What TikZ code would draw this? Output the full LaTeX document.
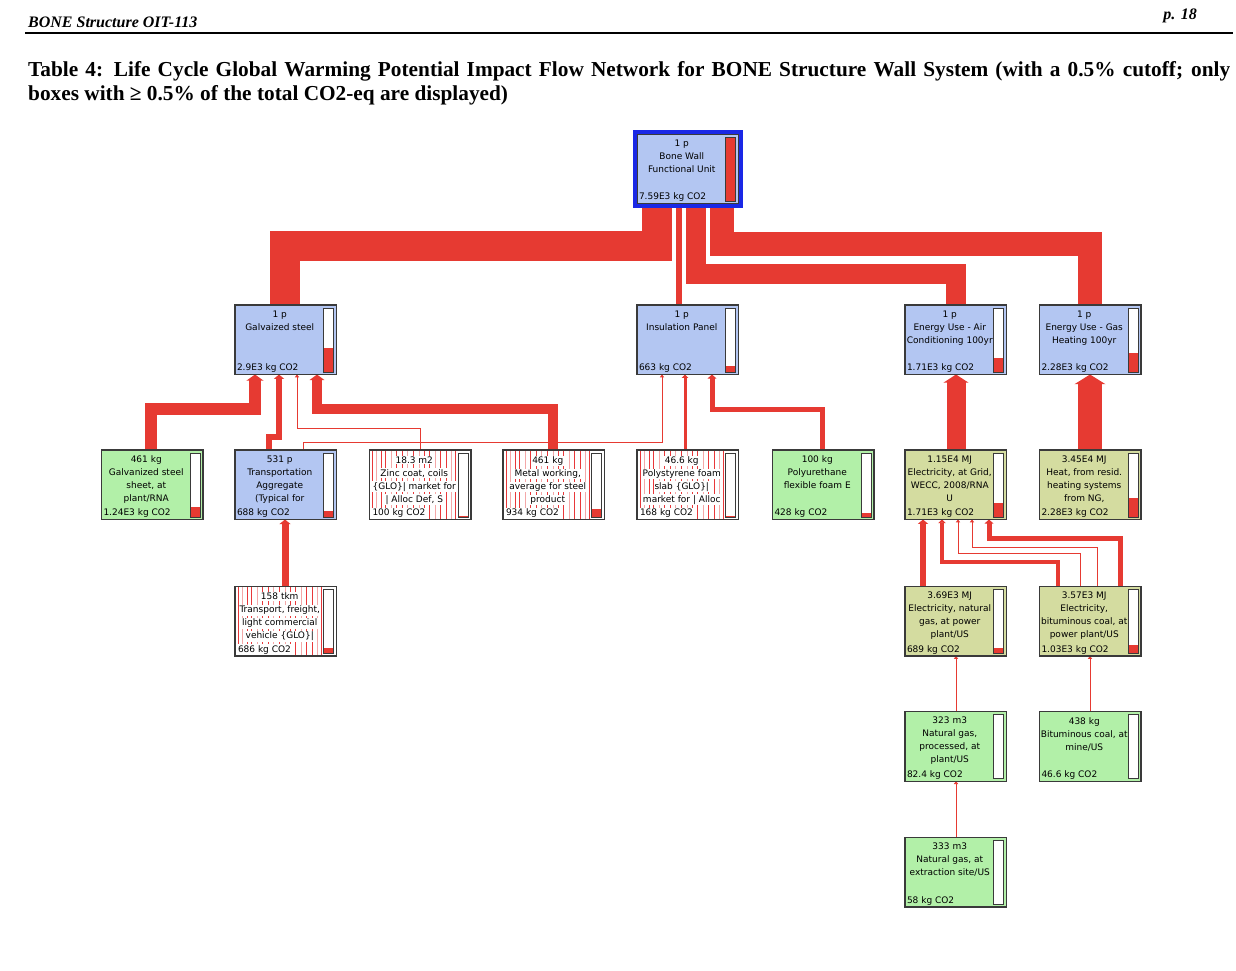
\documentclass[tikz,border=0pt]{standalone}
\usepackage{fontspec}
\setmainfont{Liberation Serif}
\newfontfamily\boxfont{DejaVu Sans}
\usetikzlibrary{arrows.meta}
\pgfdeclarelayer{paper}
\pgfdeclarelayer{bg}
\pgfsetlayers{paper,bg,main}
\definecolor{flowred}{HTML}{E63A32}
\definecolor{procblue}{HTML}{B3C6F2}
\definecolor{procgreen}{HTML}{B2F0A8}
\definecolor{procolive}{HTML}{D4DCA0}
\definecolor{stripered}{HTML}{E8383A}
\definecolor{stripepink}{HTML}{F4A8A8}
\definecolor{topblue}{HTML}{1A28E6}
\definecolor{boxgray}{HTML}{3A3A3A}
\newcommand\wb[1]{{\setlength{\fboxsep}{1pt}\colorbox{white}{#1}}}
\tikzset{
  pbase/.style={draw=boxgray, line width=1.1pt, minimum width=101.5pt, minimum height=69.5pt, inner sep=0pt, outer sep=0pt},
  blueproc/.style={fill=procblue},
  greenproc/.style={fill=procgreen},
  oliveproc/.style={fill=procolive},
  stripeproc/.style={fill=white},
  pbar/.style={fill=white, minimum width=10pt, minimum height=64pt, inner sep=0pt, outer sep=0pt},
  pbarframe/.style={draw=boxgray, line width=0.9pt},
  ptext/.style={font=\boxfont\fontsize{9}{13}\selectfont, align=center, inner sep=0pt},
  pco/.style={font=\boxfont\fontsize{9}{13}\selectfont, inner sep=0pt},
  flow/.style={draw=flowred, line join=miter, line cap=butt},
  flowarrow/.style={flow, -{Triangle[length=2.5pt 0.3, width=3pt 1.15]}},
  stripeline/.style={line width=1pt},
  hdrfont/.style={font=\bfseries\itshape\fontsize{16}{18}\selectfont, inner sep=0pt},
  titlefont/.style={font=\bfseries\fontsize{21.3}{25}\selectfont, inner sep=0pt},
}
% #1 name, #2 x, #3 y, #4 fill style, #5 fraction, #6 text, #7 co2, #8 striped
\newcommand\pbox[8]{%
  \node[pbase,#4,anchor=north west] (#1) at (#2,#3) {};
  \ifnum#8=1
    \foreach \s/\c in {3/stripered,7/stripepink,12/stripered,16/stripered,22/stripepink,27/stripered,33/stripered,38/stripepink,44/stripered,50/stripepink,55/stripered,60/stripered,66/stripepink,71/stripered,77/stripered,82/stripepink,86/stripered}
      \draw[stripeline,color=\c] ([xshift=\s pt]#1.north west) -- ([xshift=\s pt]#1.south west);
    \draw[draw=boxgray, line width=1.1pt] (#1.north west) rectangle (#1.south east);
  \fi
  \node[pbar, anchor=north east] (#1-bar) at ([xshift=-3pt,yshift=-3pt]#1.north east) {};
  \fill[flowred] (#1-bar.south west) rectangle ([yshift=#5*64pt]#1-bar.south east);
  \draw[pbarframe] (#1-bar.south west) rectangle (#1-bar.north east);
  \node[ptext, anchor=north] (#1-txt) at ([xshift=-6pt,yshift=-5.3pt]#1.north) {#6};
  \node[pco, anchor=base west] (#1-co) at ([xshift=1.8pt,yshift=3.7pt]#1.south west) {#7};
}
\begin{document}
\begin{tikzpicture}[x=1pt,y=-1pt]
\begin{pgfonlayer}{paper}
\fill[white] (0,0) rectangle (1236,970);
\end{pgfonlayer}
\useasboundingbox (0,0) rectangle (1236,970);
% header
\node[hdrfont, anchor=base west] (hdr) at (28,27) {BONE Structure OIT-113};
\node[hdrfont, anchor=base east] (pg) at (1197,19) {p. 18};
\coordinate (ruleL) at (25,33);
\coordinate (ruleR) at (1233,33);
\draw[line width=1.2pt] (ruleL) -- (ruleR);
\node[titlefont, anchor=base west] (t1) at (28,76) {\hbox to 1202pt{Table 4: Life Cycle Global Warming Potential Impact Flow Network for BONE Structure Wall System (with a 0.5\% cutoff; only}};
\node[titlefont, anchor=base west] (t2) at (28,100.5) {boxes with ≥ 0.5\% of the total CO2-eq are displayed)};

% boxes
\pbox{bw}{637}{134}{blueproc}{1}{1 p\\Bone Wall\\Functional Unit}{7.59E3 kg CO2}{0}
\draw[topblue, line width=4pt] ([xshift=-2pt,yshift=2pt]bw.north west) rectangle ([xshift=2pt,yshift=-2pt]bw.south east);

\pbox{st}{235}{305}{blueproc}{0.382}{1 p\\Galvaized steel}{2.9E3 kg CO2}{0}
\pbox{ins}{637}{305}{blueproc}{0.087}{1 p\\Insulation Panel}{663 kg CO2}{0}
\pbox{ac}{905}{305}{blueproc}{0.225}{1 p\\Energy Use - Air\\Conditioning 100yr}{1.71E3 kg CO2}{0}
\pbox{gas}{1039.5}{305}{blueproc}{0.30}{1 p\\Energy Use - Gas\\Heating 100yr}{2.28E3 kg CO2}{0}

\pbox{gs}{101.5}{450}{greenproc}{0.163}{461 kg\\Galvanized steel\\sheet, at\\plant/RNA}{1.24E3 kg CO2}{0}
\pbox{ta}{235}{450}{blueproc}{0.091}{531 p\\Transportation\\Aggregate\\(Typical for}{688 kg CO2}{0}
\pbox{zc}{369.5}{450}{stripeproc}{0.013}{\wb{18.3 m2}\\\wb{Zinc coat, coils}\\\wb{\{GLO\}| market for}\\\wb{| Alloc Def, S}}{\wb{100 kg CO2}}{1}
\pbox{mw}{503}{450}{stripeproc}{0.123}{\wb{461 kg}\\\wb{Metal working,}\\\wb{average for steel}\\\wb{product}}{\wb{934 kg CO2}}{1}
\pbox{ps}{637}{450}{stripeproc}{0.022}{\wb{46.6 kg}\\\wb{Polystyrene foam}\\\wb{slab \{GLO\}|}\\\wb{market for | Alloc}}{\wb{168 kg CO2}}{1}
\pbox{pu}{772.5}{450}{greenproc}{0.056}{100 kg\\Polyurethane\\flexible foam E}{428 kg CO2}{0}
\pbox{eg}{905}{450}{oliveproc}{0.225}{1.15E4 MJ\\Electricity, at Grid,\\WECC, 2008/RNA\\U}{1.71E3 kg CO2}{0}
\pbox{ht}{1039.5}{450}{oliveproc}{0.30}{3.45E4 MJ\\Heat, from resid.\\heating systems\\from NG,}{2.28E3 kg CO2}{0}

\pbox{tf}{235}{586.5}{stripeproc}{0.09}{\wb{158 tkm}\\\wb{Transport, freight,}\\\wb{light commercial}\\\wb{vehicle \{GLO\}|}}{\wb{686 kg CO2}}{1}
\pbox{en}{905}{586.5}{oliveproc}{0.091}{3.69E3 MJ\\Electricity, natural\\gas, at power\\plant/US}{689 kg CO2}{0}
\pbox{eb}{1039.5}{586.5}{oliveproc}{0.136}{3.57E3 MJ\\Electricity,\\bituminous coal, at\\power plant/US}{1.03E3 kg CO2}{0}

\pbox{ng}{905}{711.7}{greenproc}{0.011}{323 m3\\Natural gas,\\processed, at\\plant/US}{82.4 kg CO2}{0}
\pbox{bc}{1039.5}{711.7}{greenproc}{0.006}{438 kg\\Bituminous coal, at\\mine/US}{46.6 kg CO2}{0}

\pbox{ex}{905}{837.5}{greenproc}{0.008}{333 m3\\Natural gas, at\\extraction site/US}{58 kg CO2}{0}

% connectors
\begin{pgfonlayer}{bg}
\draw[flow, line width=30pt] ([xshift=50pt]st.north west) -- ++(0,-59) -| ([xshift=20pt]bw.south west);
\draw[flow, line width=6pt] ([xshift=42pt]ins.north west) -- ([xshift=42pt]bw.south west);
\draw[flow, line width=20pt] ([xshift=51pt]ac.north west) -- ++(0,-31) -| ([xshift=59pt]bw.south west);
\draw[flow, line width=24pt] ([xshift=50.5pt]gas.north west) -- ++(0,-61) -| ([xshift=84.5pt]bw.south west);

\draw[flowarrow, line width=12pt] ([xshift=49.5pt]gs.north west) -- ++(0,-41) -| ([xshift=20pt]st.south west);
\draw[flowarrow, line width=6pt] ([xshift=34pt]ta.north west) -- ++(0,-13) -| ([xshift=44pt]st.south west);
\draw[flowarrow, line width=1pt] ([xshift=50.5pt]zc.north west) -- ++(0,-22) -| ([xshift=62pt]st.south west);
\draw[flowarrow, line width=10pt] ([xshift=50pt]mw.north west) -- ++(0,-41) -| ([xshift=82pt]st.south west);

\draw[flowarrow, line width=1pt] ([xshift=68pt]ta.north west) -- ++(0,-8) -| ([xshift=25pt]ins.south west);
\draw[flowarrow, line width=3pt] ([xshift=48pt]ps.north west) -- ([xshift=48pt]ins.south west);
\draw[flowarrow, line width=5pt] ([xshift=49.5pt]pu.north west) -- ++(0,-41) -| ([xshift=75pt]ins.south west);

\draw[flowarrow, line width=19pt] ([xshift=51pt]eg.north west) -- ([xshift=51pt]ac.south west);
\draw[flowarrow, line width=24pt] ([xshift=50.5pt]ht.north west) -- ([xshift=50.5pt]gas.south west);

\draw[flowarrow, line width=7pt] ([xshift=50pt]tf.north west) -- ([xshift=50pt]ta.south west);

\draw[flowarrow, line width=6pt] ([xshift=18pt]en.north west) -- ([xshift=18pt]eg.south west);
\draw[flowarrow, line width=4pt] ([xshift=18.5pt]eb.north west) -- ++(0,-24.5) -| ([xshift=37pt]eg.south west);
\draw[flowarrow, line width=1pt] ([xshift=40.5pt]eb.north west) -- ++(0,-33.5) -| ([xshift=53pt]eg.south west);
\draw[flowarrow, line width=1pt] ([xshift=57.5pt]eb.north west) -- ++(0,-39.5) -| ([xshift=67pt]eg.south west);
\draw[flowarrow, line width=5pt] ([xshift=80.5pt]eb.north west) -- ++(0,-48.5) -| ([xshift=84pt]eg.south west);

\draw[flowarrow, line width=1pt] ([xshift=51pt]ng.north west) -- ([xshift=51pt]en.south west);
\draw[flowarrow, line width=1pt] ([xshift=50.5pt]bc.north west) -- ([xshift=50.5pt]eb.south west);
\draw[flowarrow, line width=1pt] ([xshift=51pt]ex.north west) -- ([xshift=51pt]ng.south west);
\end{pgfonlayer}
\end{tikzpicture}
\end{document}
